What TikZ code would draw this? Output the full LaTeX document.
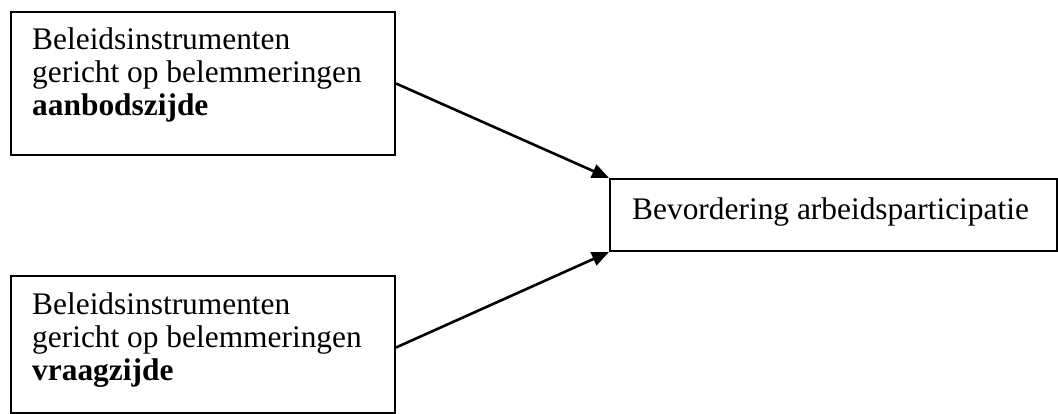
\documentclass[tikz,border=0pt]{standalone}
\usepackage{fontspec}
\setmainfont{Liberation Serif}
\usetikzlibrary{arrows.meta}
\begin{document}
\begin{tikzpicture}[x=1pt,y=-1pt,
  box/.style={draw,line width=2pt,inner sep=0pt,anchor=north west},
  txt/.style={inner sep=0pt,anchor=base west,
    font=\fontsize{31.4}{33}\selectfont},
  arr/.style={line width=2.6pt,-{Triangle[length=17pt,width=14pt]}}]
\useasboundingbox (0,0) rectangle (1058,414);
\node[box,minimum width=384pt,minimum height=143pt] (top) at (10,11) {};
\node[box,minimum width=384pt,minimum height=137pt] (bot) at (10,275) {};
\node[box,minimum width=447pt,minimum height=72pt] (res) at (609,178) {};
\node[txt] (top1) at (32,50) {Beleidsinstrumenten};
\node[txt] (top2) at (32,83) {gericht op belemmeringen};
\node[txt] (top3) at (32,116) {\textbf{aanbodszijde}};
\node[txt] (bot1) at (32,314) {Beleidsinstrumenten};
\node[txt] (bot2) at (32,347) {gericht op belemmeringen};
\node[txt] (bot3) at (32,380) {\textbf{vraagzijde}};
\node[txt] (restext) at (632,220) {Bevordering arbeidsparticipatie};
\draw[arr] (top.east) -- (res.north west);
\draw[arr] ([yshift=-3pt]bot.east) -- (res.south west);
\end{tikzpicture}
\end{document}
